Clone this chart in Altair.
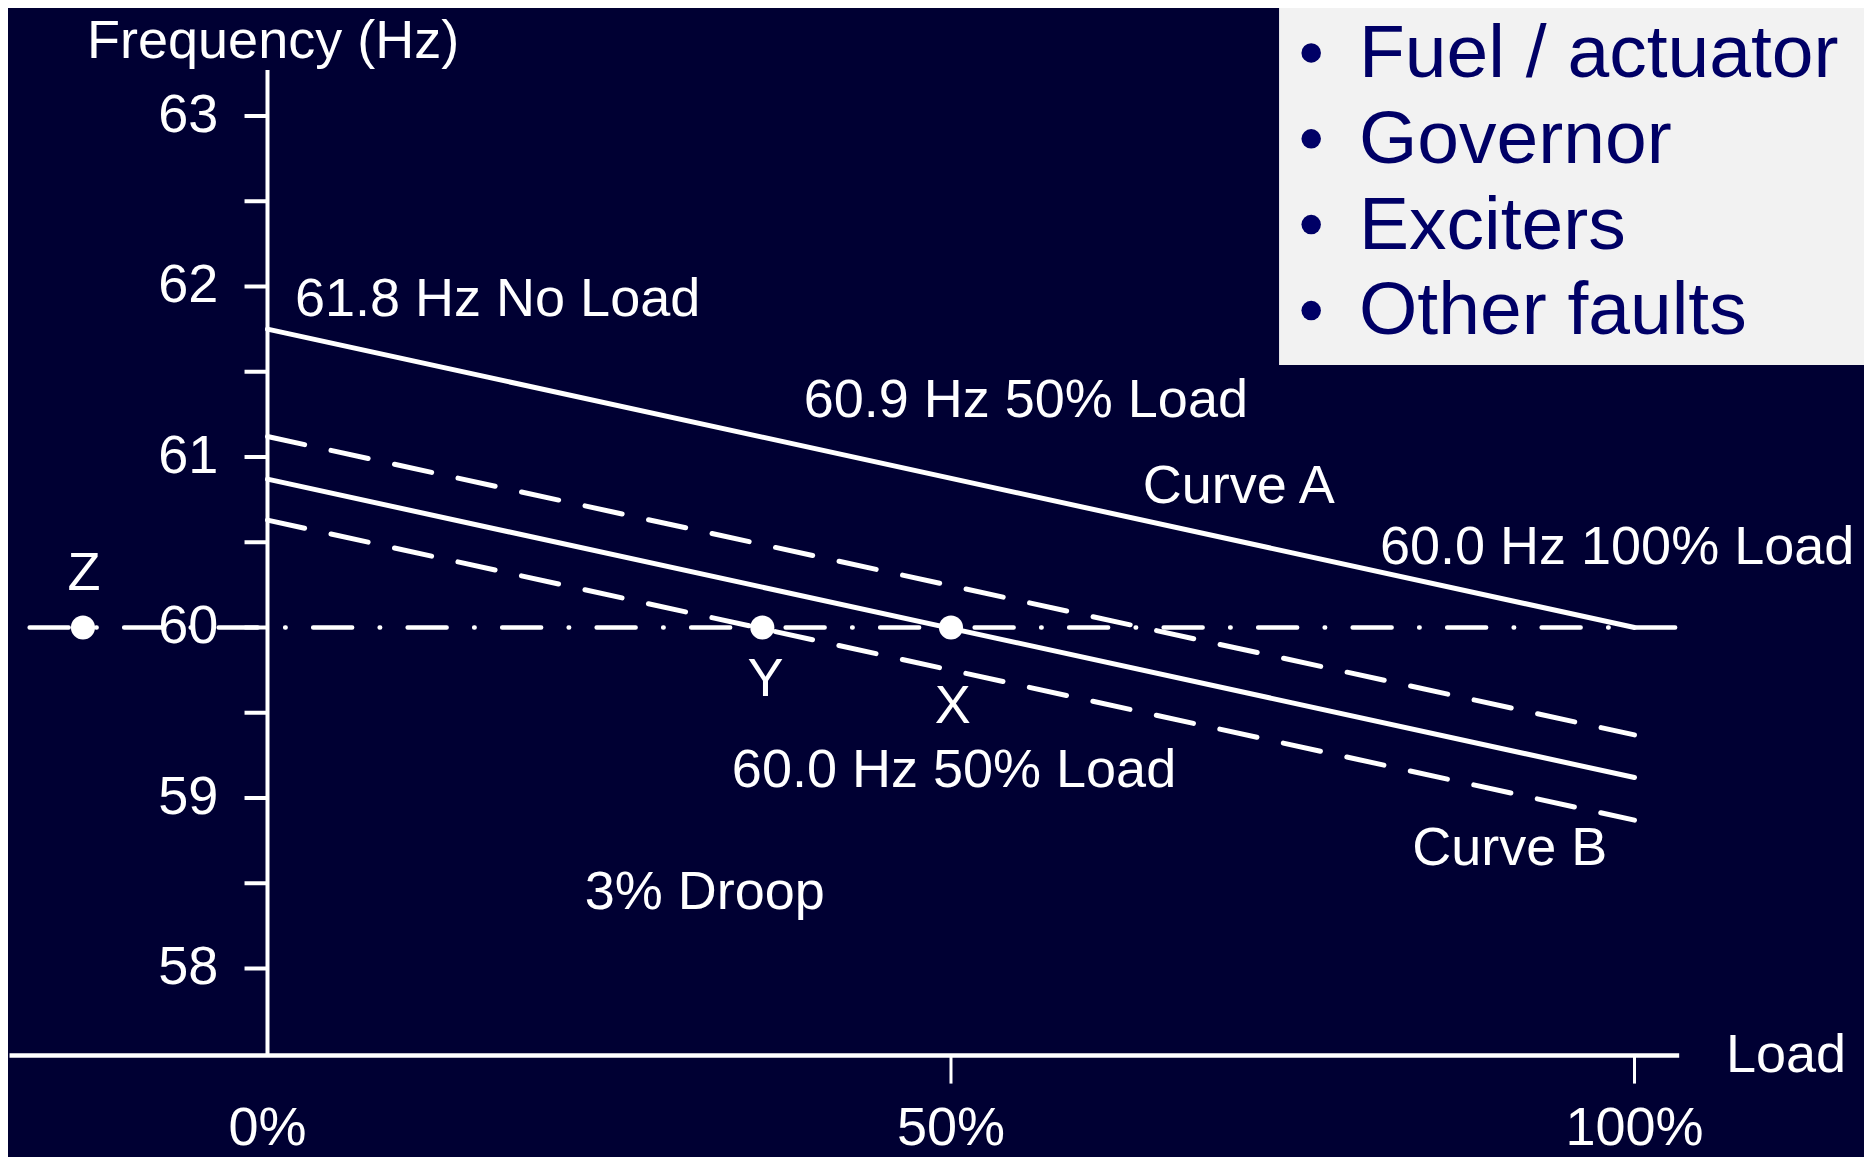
import altair as alt
import pandas as pd

# ---------------- data ----------------
load_ends = [0, 100]                 # % load at the ends of each droop line
curve_a = [61.75, 60.0]              # Curve A (solid)
upper_dashed = [61.12, 59.37]        # dashed line above Curve B
curve_b = [60.87, 59.12]             # Curve B (solid)
lower_dashed = [60.63, 58.87]        # dashed line below Curve B

ref_line_load = [-17.4, 104.3]       # 60 Hz dash-dot reference line
ref_freq = 60.0

point_names = ["Z", "Y", "X"]
point_load = [-13.5, 36.2, 50.0]
point_freq = [60.0, 60.0, 60.0]
point_label_load = [-13.42, 36.43, 50.13]
point_label_freq = [60.22, 59.60, 59.44]

y_tick_values = [58, 58.5, 59, 59.5, 60, 60.5, 61, 61.5, 62, 62.5, 63]
y_label_values = [58, 59, 60, 61, 62, 63]
x_tick_values = [50, 100]
x_label_values = [0, 50, 100]
x_label_text = ["0%", "50%", "100%"]

y_axis_span = [57.49, 63.27]
x_axis_span = [-18.87, 103.27]
x_axis_freq = 57.49

ann_text = ["61.8 Hz No Load", "60.9 Hz 50% Load", "Curve A", "60.0 Hz 100% Load",
            "60.0 Hz 50% Load", "Curve B", "3% Droop", "Load", "Frequency (Hz)"]
ann_load = [2.01, 39.22, 64.03, 81.38, 33.97, 83.74, 23.2, 106.69, -13.2]
ann_freq = [61.827, 61.233, 60.728, 60.372, 59.066, 58.607, 58.347, 57.393, 63.340]

box_items = ["Fuel / actuator", "Governor", "Exciters", "Other faults"]
box_text_freq = [63.229, 62.726, 62.222, 61.719]
box_bullet_freq = [63.370, 62.866, 62.363, 61.859]

# ---------------- layout ----------------
W, H = 1856, 1149
X_DOM = [-18.983, 116.79]
Y_DOM = [56.8944, 63.6334]
xs = alt.Scale(domain=X_DOM, nice=False, zero=False)
ys = alt.Scale(domain=Y_DOM, nice=False, zero=False)
FONT = "Liberation Sans"
FS = 54
BG = "#000033"
WHITE = "#ffffff"
NAVY = "#000066"


def X(f):
    return alt.X(f, type="quantitative", scale=xs, axis=None)


def Y(f):
    return alt.Y(f, type="quantitative", scale=ys, axis=None)


layers = []

# y axis line
yaxis_df = pd.DataFrame({"x": [0], "y": [y_axis_span[0]], "y2": [y_axis_span[1]]})
layers.append(alt.Chart(yaxis_df).mark_rule(color=WHITE, strokeWidth=4).encode(
    x=X("x"), y=Y("y"), y2="y2"))

# y ticks
ytick_df = pd.DataFrame({"v": y_tick_values})
layers.append(alt.Chart(ytick_df).mark_rule(color=WHITE, strokeWidth=4).encode(
    x=alt.X("x0:Q", scale=xs, axis=None), x2="x1:Q", y=Y("v")).transform_calculate(
    x0="-1.68", x1="0"))

# y labels
ylab_df = pd.DataFrame({"v": y_label_values})
layers.append(alt.Chart(ylab_df).mark_text(
    color=WHITE, font=FONT, fontSize=FS, align="right", baseline="middle").encode(
    x=alt.X("xl:Q", scale=xs, axis=None), y=Y("v"), text=alt.Text("v:Q", format="d")
).transform_calculate(xl="-3.6"))

# x axis line
xaxis_df = pd.DataFrame({"x": [x_axis_span[0]], "x2": [x_axis_span[1]], "y": [x_axis_freq]})
layers.append(alt.Chart(xaxis_df).mark_rule(color=WHITE, strokeWidth=4.5).encode(
    x=X("x"), x2="x2", y=Y("y")))

# x ticks
xtick_df = pd.DataFrame({"v": x_tick_values})
layers.append(alt.Chart(xtick_df).mark_rule(color=WHITE, strokeWidth=3).encode(
    x=X("v"), y=alt.Y("y0:Q", scale=ys, axis=None), y2="y1:Q").transform_calculate(
    y0="57.49", y1="57.325"))

# x labels
xlab_df = pd.DataFrame({"v": x_label_values, "t": x_label_text})
layers.append(alt.Chart(xlab_df).mark_text(
    color=WHITE, font=FONT, fontSize=FS, align="center", baseline="alphabetic").encode(
    x=X("v"), y=alt.Y("yl:Q", scale=ys, axis=None), text="t:N"
).transform_calculate(yl="56.965"))

# droop lines
def droop(vals, dashed):
    df = pd.DataFrame({"load": load_ends, "f": vals})
    kw = dict(color=WHITE, strokeWidth=5, strokeCap="round")
    if dashed:
        kw["strokeDash"] = [38, 27]
    return alt.Chart(df).mark_line(**kw).encode(x=X("load"), y=Y("f"))


layers.append(droop(curve_a, False))
layers.append(droop(upper_dashed, True))
layers.append(droop(curve_b, False))
layers.append(droop(lower_dashed, True))

# dash-dot 60 Hz line
ref_df = pd.DataFrame({"load": ref_line_load, "f": [ref_freq, ref_freq]})
layers.append(alt.Chart(ref_df).mark_line(
    color=WHITE, strokeWidth=4.5, strokeCap="round",
    strokeDash=[39, 27.5, 0.5, 27.5]).encode(x=X("load"), y=Y("f")))

# points
pts_df = pd.DataFrame({"n": point_names, "load": point_load, "f": point_freq})
layers.append(alt.Chart(pts_df).mark_point(
    filled=True, color=WHITE, opacity=1, size=580, shape="circle").encode(
    x=X("load"), y=Y("f")))

# point labels
plab_df = pd.DataFrame({"n": point_names, "load": point_label_load, "f": point_label_freq})
layers.append(alt.Chart(plab_df).mark_text(
    color=WHITE, font=FONT, fontSize=FS, align="center", baseline="alphabetic").encode(
    x=X("load"), y=Y("f"), text="n:N"))

# annotations
ann_df = pd.DataFrame({"t": ann_text, "load": ann_load, "f": ann_freq})
layers.append(alt.Chart(ann_df).mark_text(
    color=WHITE, font=FONT, fontSize=FS, align="left", baseline="alphabetic").encode(
    x=X("load"), y=Y("f"), text="t:N"))

# grey box with bullet list
box_df = pd.DataFrame({"x": [74.0], "x2": [X_DOM[1]], "y": [61.54], "y2": [Y_DOM[1]]})
layers.append(alt.Chart(box_df).mark_rect(color="#f2f2f2", opacity=1).encode(
    x=X("x"), x2="x2", y=Y("y"), y2="y2"))

bul_df = pd.DataFrame({"f": box_bullet_freq})
layers.append(alt.Chart(bul_df).mark_point(
    filled=True, color=NAVY, opacity=1, size=380, shape="circle").encode(
    x=alt.X("bx:Q", scale=xs, axis=None), y=Y("f")).transform_calculate(bx="76.35"))

btxt_df = pd.DataFrame({"t": box_items, "f": box_text_freq})
layers.append(alt.Chart(btxt_df).mark_text(
    color=NAVY, font=FONT, fontSize=75, align="left", baseline="alphabetic").encode(
    x=alt.X("tx:Q", scale=xs, axis=None), y=Y("f"), text="t:N"
).transform_calculate(tx="79.85"))

chart = alt.layer(*layers).properties(
    width=W, height=H, background=BG,
    autosize=alt.AutoSizeParams(type="none"), padding=0,
).configure_view(strokeWidth=0, fill=BG)

chart.save("out.html", embed_options={"renderer": "svg", "actions": False})
